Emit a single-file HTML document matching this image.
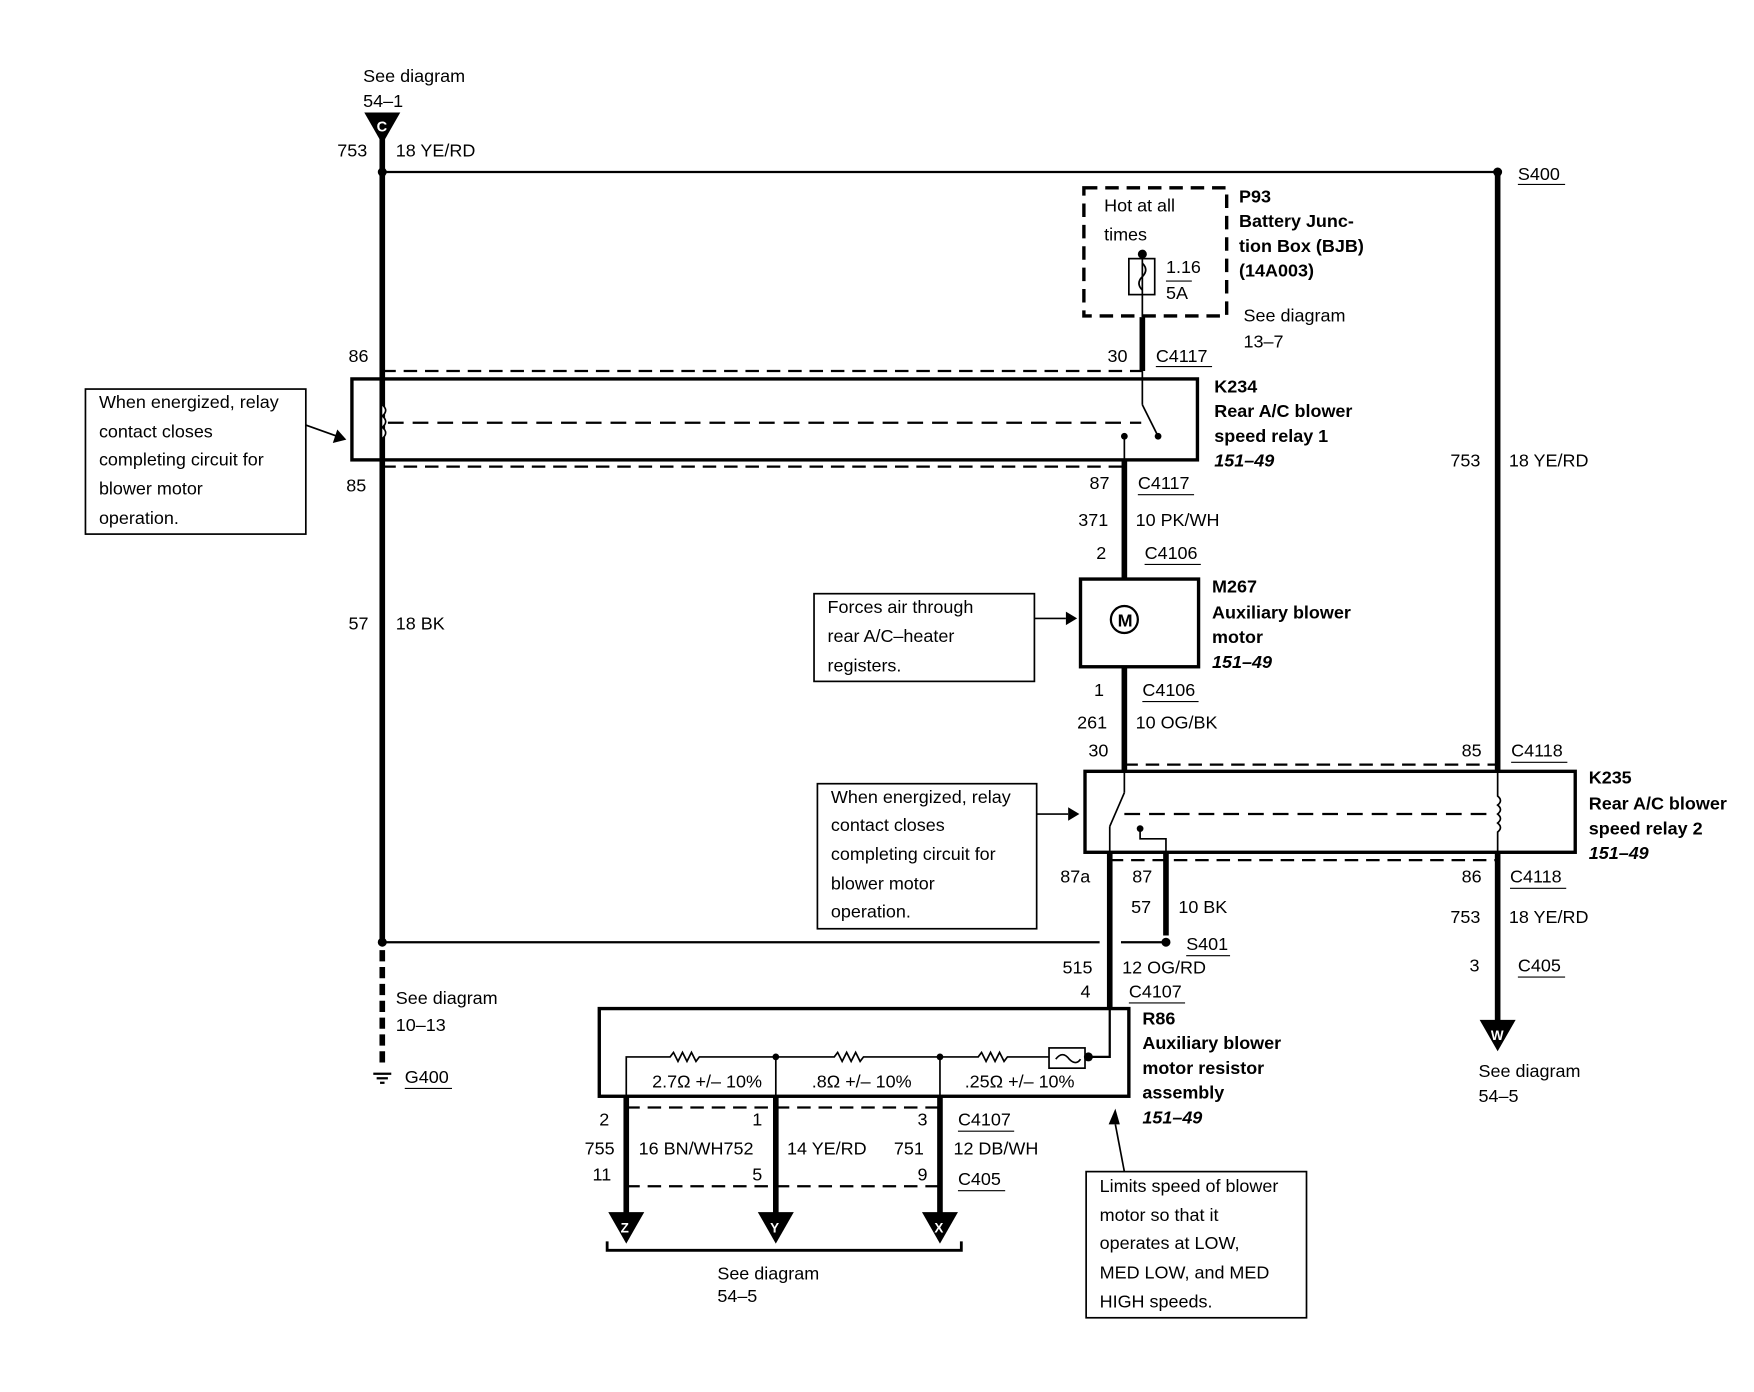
<!DOCTYPE html>
<html><head><meta charset="utf-8"><style>
html,body{margin:0;padding:0;background:#fff;}
svg{display:block;}
text{font-family:"Liberation Sans",sans-serif;font-size:16px;fill:#000;}
.b{font-weight:bold;}
.bi{font-weight:bold;font-style:italic;}
</style></head><body>
<svg width="1754" height="1392" viewBox="0 0 1560 1238" xmlns="http://www.w3.org/2000/svg">
<rect width="1560" height="1238" fill="#fff"/>
<g stroke="#000" fill="none">
<!-- top -->
<line x1="340" y1="153" x2="1332" y2="153" stroke-width="2"/>
<line x1="340" y1="120" x2="340" y2="835" stroke-width="5"/>
<line x1="1332" y1="153" x2="1332" y2="686" stroke-width="5"/>
<!-- K234 -->
<rect x="313" y="337" width="752" height="72" stroke-width="3"/>
<line x1="340" y1="330" x2="1016" y2="330" stroke-width="2" stroke-dasharray="12,7"/>
<line x1="340" y1="415" x2="1000" y2="415" stroke-width="2" stroke-dasharray="12,7"/>
<line x1="345" y1="376" x2="1015" y2="376" stroke-width="2" stroke-dasharray="14,8"/>
<path d="M340 360 q6 5 0 10 q6 5 0 10 q6 5 0 10" stroke-width="1.5" fill="#fff"/>
<line x1="1016" y1="282" x2="1016" y2="330" stroke-width="5"/>
<line x1="1016" y1="330" x2="1016" y2="360" stroke-width="1.5"/>
<line x1="1016" y1="360" x2="1030" y2="388" stroke-width="1.5"/>
<line x1="1000" y1="388" x2="1000" y2="409" stroke-width="1.5"/>
<line x1="1000" y1="409" x2="1000" y2="515" stroke-width="5"/>
<!-- fuse box -->
<rect x="964" y="167" width="127" height="114" stroke-width="3" stroke-dasharray="12,7"/>
<rect x="1004" y="230" width="23" height="32" stroke-width="1.5"/>
<line x1="1016" y1="226" x2="1016" y2="282" stroke-width="1.5"/>
<path d="M1016 234 q6 6 0 12 q-6 6 0 12" stroke-width="1.5"/>
<line x1="1037" y1="250" x2="1060" y2="250" stroke-width="1"/>
<!-- callouts -->
<rect x="76" y="346" width="196" height="129" stroke-width="1.5"/>
<line x1="272" y1="378" x2="300" y2="388" stroke-width="1.5"/>
<rect x="724" y="528" width="196" height="78" stroke-width="1.5"/>
<line x1="920" y1="550" x2="948" y2="550" stroke-width="1.5"/>
<rect x="727" y="697" width="195" height="129" stroke-width="1.5"/>
<line x1="922" y1="724" x2="950" y2="724" stroke-width="1.5"/>
<rect x="966" y="1042" width="196" height="130" stroke-width="1.5"/>
<line x1="1000" y1="1042" x2="992" y2="1000" stroke-width="1.5"/>
<!-- motor -->
<rect x="961" y="515" width="105" height="78" stroke-width="3"/>
<circle cx="1000" cy="551" r="12" stroke-width="2" fill="#fff"/>
<line x1="1000" y1="593" x2="1000" y2="686" stroke-width="5"/>
<!-- K235 -->
<rect x="965" y="686" width="436" height="72" stroke-width="3"/>
<line x1="1000" y1="680" x2="1332" y2="680" stroke-width="2" stroke-dasharray="12,7"/>
<line x1="987" y1="765" x2="1332" y2="765" stroke-width="2" stroke-dasharray="12,7"/>
<line x1="1000" y1="724" x2="1330" y2="724" stroke-width="2" stroke-dasharray="14,8"/>
<line x1="1000" y1="686" x2="1000" y2="705" stroke-width="1.5"/>
<line x1="1000" y1="705" x2="987" y2="735" stroke-width="1.5"/>
<line x1="987" y1="735" x2="987" y2="758" stroke-width="1.5"/>
<path d="M1014 737 L1014 746 L1037 746 L1037 758" stroke-width="1.5"/>
<path d="M1332 686 L1332 708 q5 4 0 8 q5 4 0 8 q5 4 0 8 q5 4 0 8 L1332 758" stroke-width="1.5"/>
<line x1="1332" y1="758" x2="1332" y2="910" stroke-width="5"/>
<line x1="987" y1="758" x2="987" y2="897" stroke-width="5"/>
<line x1="1037" y1="758" x2="1037" y2="832" stroke-width="5"/>
<!-- S401 line -->
<line x1="340" y1="838" x2="978" y2="838" stroke-width="2"/>
<line x1="997" y1="838" x2="1037" y2="838" stroke-width="2"/>
<line x1="340" y1="845" x2="340" y2="948" stroke-width="5" stroke-dasharray="10,5"/>
<line x1="332" y1="955" x2="348" y2="955" stroke-width="2"/>
<line x1="335" y1="959" x2="345" y2="959" stroke-width="2"/>
<line x1="338" y1="963" x2="342" y2="963" stroke-width="2"/>
<!-- R86 -->
<rect x="533" y="897" width="471" height="78" stroke-width="3"/>
<path d="M987 897 L987 940 L968 940" stroke-width="2"/>
<rect x="933" y="932" width="32" height="18" stroke-width="1.5"/>
<path d="M939 942 q6 -8 12 0 q6 6 10 0" stroke-width="1.5"/>
<path d="M557 975 L557 940 L596 940 l3 -4 l4 8 l4 -8 l4 8 l4 -8 l4 8 l3 -4 L742 940 l3 -4 l4 8 l4 -8 l4 8 l4 -8 l4 8 l3 -4 L870 940 l3 -4 l4 8 l4 -8 l4 8 l4 -8 l4 8 l3 -4 L933 940" stroke-width="1.5"/>
<line x1="690" y1="940" x2="690" y2="975" stroke-width="1.5"/>
<line x1="836" y1="940" x2="836" y2="975" stroke-width="1.5"/>
<line x1="557" y1="975" x2="557" y2="1080" stroke-width="5"/>
<line x1="690" y1="975" x2="690" y2="1080" stroke-width="5"/>
<line x1="836" y1="975" x2="836" y2="1080" stroke-width="5"/>
<line x1="557" y1="985" x2="836" y2="985" stroke-width="2" stroke-dasharray="12,7"/>
<line x1="557" y1="1055" x2="836" y2="1055" stroke-width="2" stroke-dasharray="12,7"/>
<path d="M540 1104 L540 1112 L855 1112 L855 1104" stroke-width="2.5"/>
<!-- underlines -->
<g stroke-width="1">
<line x1="1350" y1="164" x2="1392" y2="164"/>
<line x1="1028" y1="326" x2="1078" y2="326"/>
<line x1="1012" y1="440" x2="1062" y2="440"/>
<line x1="1018" y1="502" x2="1068" y2="502"/>
<line x1="1016" y1="624" x2="1066" y2="624"/>
<line x1="1344" y1="678" x2="1394" y2="678"/>
<line x1="1343" y1="790" x2="1393" y2="790"/>
<line x1="1350" y1="869" x2="1392" y2="869"/>
<line x1="1055" y1="850" x2="1094" y2="850"/>
<line x1="1004" y1="892" x2="1054" y2="892"/>
<line x1="360" y1="968" x2="402" y2="968"/>
<line x1="852" y1="1006" x2="902" y2="1006"/>
<line x1="852" y1="1059" x2="894" y2="1059"/>
</g>
</g>
<!-- filled shapes -->
<g fill="#000">
<polygon points="324,100 356,100 340,128"/>
<circle cx="340" cy="153" r="4"/><circle cx="1332" cy="153" r="4"/>
<circle cx="1016" cy="226" r="4"/><circle cx="1000" cy="388" r="3"/><circle cx="1030" cy="388" r="3"/>
<circle cx="340" cy="838" r="4"/><circle cx="1037" cy="838" r="4"/>
<circle cx="968" cy="940" r="4"/><circle cx="690" cy="940" r="3"/><circle cx="836" cy="940" r="3"/>
<circle cx="1014" cy="737" r="3"/>
<polygon points="300,382 308,391 296,394"/>
<polygon points="948,544 958,550 948,556"/>
<polygon points="950,718 960,724 950,730"/>
<polygon points="986,1000 992,986 996,1000"/>
<polygon points="1316,907 1348,907 1332,935"/>
<polygon points="541,1078 573,1078 557,1106"/>
<polygon points="674,1078 706,1078 690,1106"/>
<polygon points="820,1078 852,1078 836,1106"/>
</g>
<g font-weight="bold" font-size="13">
<text x="335" y="117" style="fill:#fff;font-size:13px">C</text>
<text x="1326" y="925" style="fill:#fff;font-size:12px">W</text>
<text x="552" y="1096" style="fill:#fff;font-size:12px">Z</text>
<text x="685" y="1096" style="fill:#fff;font-size:12px">Y</text>
<text x="831" y="1096" style="fill:#fff;font-size:12px">X</text>
</g>
<!-- text -->
<text x="323" y="73">See diagram</text><text x="323" y="95">54–1</text>
<text x="300" y="139">753</text><text x="352" y="139">18 YE/RD</text>
<text x="1350" y="160">S400</text>
<text x="982" y="188">Hot at all</text><text x="982" y="214">times</text>
<text x="1037" y="243">1.16</text><text x="1037" y="266">5A</text>
<text class="b" x="1102" y="180">P93</text><text class="b" x="1102" y="202">Battery Junc-</text>
<text class="b" x="1102" y="224">tion Box (BJB)</text><text class="b" x="1102" y="246">(14A003)</text>
<text x="1106" y="286">See diagram</text><text x="1106" y="309">13–7</text>
<text x="310" y="322">86</text><text x="985" y="322">30</text><text x="1028" y="322">C4117</text>
<text class="b" x="1080" y="349">K234</text><text class="b" x="1080" y="371">Rear A/C blower</text>
<text class="b" x="1080" y="393">speed relay 1</text><text class="bi" x="1080" y="415">151–49</text>
<text x="88" y="363">When energized, relay</text><text x="88" y="389">contact closes</text>
<text x="88" y="414">completing circuit for</text><text x="88" y="440">blower motor</text><text x="88" y="466">operation.</text>
<text x="308" y="437">85</text>
<text x="969" y="435">87</text><text x="1012" y="435">C4117</text>
<text x="1290" y="415">753</text><text x="1342" y="415">18 YE/RD</text>
<text x="959" y="468">371</text><text x="1010" y="468">10 PK/WH</text>
<text x="975" y="497">2</text><text x="1018" y="497">C4106</text>
<text x="310" y="560">57</text><text x="352" y="560">18 BK</text>
<text x="994" y="557" font-size="14" font-weight="bold">M</text>
<text class="b" x="1078" y="527">M267</text><text class="b" x="1078" y="550">Auxiliary blower</text>
<text class="b" x="1078" y="572">motor</text><text class="bi" x="1078" y="594">151–49</text>
<text x="736" y="545">Forces air through</text><text x="736" y="571">rear A/C–heater</text><text x="736" y="597">registers.</text>
<text x="973" y="619">1</text><text x="1016" y="619">C4106</text>
<text x="958" y="648">261</text><text x="1010" y="648">10 OG/BK</text>
<text x="968" y="673">30</text><text x="1300" y="673">85</text><text x="1344" y="673">C4118</text>
<text class="b" x="1413" y="697">K235</text><text class="b" x="1413" y="720">Rear A/C blower</text>
<text class="b" x="1413" y="742">speed relay 2</text><text class="bi" x="1413" y="764">151–49</text>
<text x="739" y="714">When energized, relay</text><text x="739" y="739">contact closes</text>
<text x="739" y="765">completing circuit for</text><text x="739" y="791">blower motor</text><text x="739" y="816">operation.</text>
<text x="943" y="785">87a</text><text x="1007" y="785">87</text>
<text x="1300" y="785">86</text><text x="1343" y="785">C4118</text>
<text x="1006" y="812">57</text><text x="1048" y="812">10 BK</text>
<text x="1290" y="821">753</text><text x="1342" y="821">18 YE/RD</text>
<text x="1055" y="845">S401</text>
<text x="1307" y="864">3</text><text x="1350" y="864">C405</text>
<text x="945" y="866">515</text><text x="998" y="866">12 OG/RD</text>
<text x="961" y="887">4</text><text x="1004" y="887">C4107</text>
<text x="352" y="893">See diagram</text><text x="352" y="917">10–13</text><text x="360" y="963">G400</text>
<text class="b" x="1016" y="911">R86</text><text class="b" x="1016" y="933">Auxiliary blower</text>
<text class="b" x="1016" y="955">motor resistor</text><text class="b" x="1016" y="977">assembly</text>
<text class="bi" x="1016" y="999">151–49</text>
<text x="580" y="967" font-family="Liberation Serif">2.7Ω +/– 10%</text>
<text x="722" y="967" font-family="Liberation Serif">.8Ω +/– 10%</text>
<text x="858" y="967" font-family="Liberation Serif">.25Ω +/– 10%</text>
<text x="1315" y="958">See diagram</text><text x="1315" y="980">54–5</text>
<text x="533" y="1001">2</text><text x="669" y="1001">1</text><text x="816" y="1001">3</text><text x="852" y="1001">C4107</text>
<text x="520" y="1027">755</text><text x="568" y="1027">16 BN/WH752</text><text x="700" y="1027">14 YE/RD</text>
<text x="795" y="1027">751</text><text x="848" y="1027">12 DB/WH</text>
<text x="527" y="1050">11</text><text x="669" y="1050">5</text><text x="816" y="1050">9</text><text x="852" y="1054">C405</text>
<text x="978" y="1060">Limits speed of blower</text><text x="978" y="1086">motor so that it</text>
<text x="978" y="1111">operates at LOW,</text><text x="978" y="1137">MED LOW, and MED</text><text x="978" y="1163">HIGH speeds.</text>
<text x="638" y="1138">See diagram</text><text x="638" y="1158">54–5</text>
</svg>
</body></html>
